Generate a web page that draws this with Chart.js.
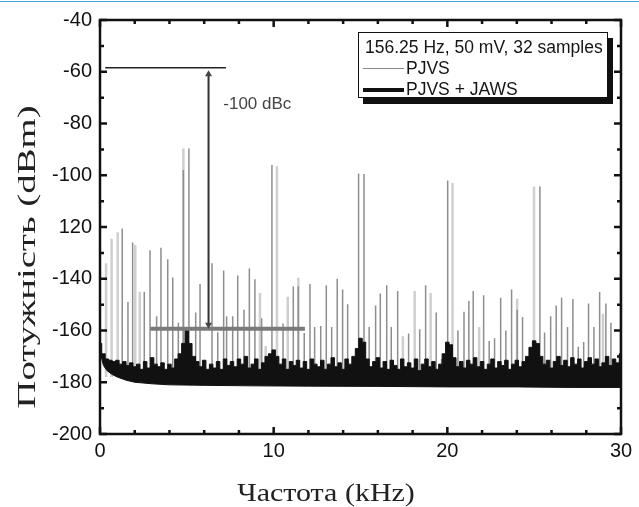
<!DOCTYPE html>
<html lang="uk">

<head>
    <meta charset="UTF-8">
    <title>Спектр PJVS та PJVS + JAWS</title>
    <script src="https://cdn.jsdelivr.net/npm/chart.js"></script>
    <style>
        html, body { margin: 0; padding: 0; background: #fff; }
        .container { position: relative; width: 639px; height: 507px; }
        .linha-topo { position: absolute; left: 0; top: 1px; width: 639px; height: 1px; background: #3fa9d8; }
        .legenda {
            position: absolute; left: 358px; top: 32px; width: 250px; height: 66px;
            box-sizing: border-box; border: 1.5px solid #111; background: #fff;
            box-shadow: 5px 6px 0 #111;
            font-family: "Liberation Sans", Arial, sans-serif; font-size: 17.5px; color: #151515;
            padding-top: 4px; line-height: 21px;
        }
        .legenda .titulo { padding-left: 6px; white-space: nowrap; }
        .legenda .item { display: flex; align-items: center; white-space: nowrap; }
        .amostra { display: inline-block; width: 41px; margin: 0 2px 0 4px; }
        .fina { border-top: 1.5px solid #8a8a8a; }
        .grossa { border-top: 4px solid #111; }
    </style>
</head>

<body>
    <div class="container">
        <canvas id="grafico" width="639" height="507"></canvas>
        <div class="linha-topo"></div>
        <div class="legenda">
            <div class="titulo">156.25 Hz, 50 mV, 32 samples</div>
            <div class="item"><span class="amostra fina"></span>PJVS</div>
            <div class="item"><span class="amostra grossa"></span>PJVS + JAWS</div>
        </div>
    </div>
</body>

</html>

<script>
    // підписи осі Y (так, як надруковано)
    const yTickLabels = ['-40', '-60', '-80', '-100', '120', '-140', '-160', '-180', '-200'];
    const xMinorTicks = [0, 2, 4, 6, 8, 10, 12, 14, 16, 18, 20, 22, 24, 26, 28, 30];
    const xMajorTicks = [0, 10, 20, 30];
    const yMinorTicks = [-200, -190, -180, -170, -160, -150, -140, -130, -120, -110, -100, -90, -80, -70, -60, -50, -40];
    const xTitle = 'Частота (kHz)';
    const yTitle = 'Потужність (dBm)';

    // PJVS: гармоніки (кГц) та їх рівні (dBm)
    const pjvsFreq = [1.28, 1.61, 1.88, 2.55, 2.88, 3.26, 3.51, 3.9, 4.19, 4.51, 4.8, 5.12, 5.51, 5.76, 6.45, 6.78,
        7.12, 7.29, 7.64, 7.93, 8.29, 8.6, 8.92, 9.31, 9.9, 10.54, 11.13, 11.42, 11.76, 12.09, 12.36, 12.71,
        13.03, 13.34, 13.66, 13.97, 14.26, 14.89, 15.2, 15.5, 15.87, 16.14, 16.51, 16.77, 17.14, 17.77, 18.41,
        18.75, 19.36, 19.67, 20.02, 20.61, 20.96, 21.24, 21.49, 22.09, 22.41, 22.72, 23.07, 23.37, 23.7, 24.02,
        24.33, 25.33, 25.6, 25.95, 26.27, 26.58, 26.92, 27.23, 27.54, 27.85, 28.13, 28.44, 28.77, 29.13, 29.42];
    const pjvsPeak = [-120.6, -149, -126, -145, -129, -154.5, -128, -132.5, -139.5, -157, -98, -89.7, -153, -142, -134, -160.7,
        -136.8, -154.5, -154.5, -138.7, -152, -136, -140.2, -155.3, -96, -157.3, -143, -143, -161, -142, -158.6, -158.3,
        -142.5, -158.6, -140, -144.2, -149.9, -99.3, -99.5, -158.6, -150.3, -145.7, -142.5, -158.6, -144.7, -161.2, -159.5,
        -142.5, -153, -171, -102, -160, -152.8, -148.6, -144.7, -146.4, -164.1, -163, -147.3, -160, -144.2, -152,
        -154.8, -104.3, -160.8, -154.5, -150.3, -147.3, -158.6, -147.8, -166.3, -164.4, -149.6, -158.6, -145.1, -149.6, -157];

    // світліші лінії PJVS
    const pjvsLightFreq = [0.35, 0.67, 1.02, 2.03, 2.29, 4.8, 9.21, 9.54, 10.19, 10.81, 11.42, 17.44, 18.12, 19.04,
        20.3, 21.83, 24.02, 24.99, 28.96, 29.98];
    const pjvsLightPeak = [-134, -124.5, -122, -127, -145, -89.7, -145.5, -166, -96.5, -147, -139.6, -162.2, -144.7, -145.5,
        -103, -158.6, -147.7, -104.3, -153.5, -106];
    const spikeBase = -178;

    // PJVS + JAWS: верхня межа шумової смуги
    const jawsFreq = [
        0, 0.2, 0.4, 0.6, 0.8, 1, 1.2, 1.4, 1.6, 1.8,
        2, 2.2, 2.4, 2.6, 2.8, 3, 3.2, 3.4, 3.6, 3.8,
        4, 4.2, 4.4, 4.6, 4.8, 5, 5.2, 5.4, 5.6, 5.8,
        6, 6.2, 6.4, 6.6, 6.8, 7, 7.2, 7.4, 7.6, 7.8,
        8, 8.2, 8.4, 8.6, 8.8, 9, 9.2, 9.4, 9.6, 9.8,
        10, 10.2, 10.4, 10.6, 10.8, 11, 11.2, 11.4, 11.6, 11.8,
        12, 12.2, 12.4, 12.6, 12.8, 13, 13.2, 13.4, 13.6, 13.8,
        14, 14.2, 14.4, 14.6, 14.8, 15, 15.2, 15.4, 15.6, 15.8,
        16, 16.2, 16.4, 16.6, 16.8, 17, 17.2, 17.4, 17.6, 17.8,
        18, 18.2, 18.4, 18.6, 18.8, 19, 19.2, 19.4, 19.6, 19.8,
        20, 20.2, 20.4, 20.6, 20.8, 21, 21.2, 21.4, 21.6, 21.8,
        22, 22.2, 22.4, 22.6, 22.8, 23, 23.2, 23.4, 23.6, 23.8,
        24, 24.2, 24.4, 24.6, 24.8, 25, 25.2, 25.4, 25.6, 25.8,
        26, 26.2, 26.4, 26.6, 26.8, 27, 27.2, 27.4, 27.6, 27.8,
        28, 28.2, 28.4, 28.6, 28.8, 29, 29.2, 29.4, 29.6, 29.8,
        30];
    const jawsTop = [
        -165, -169, -171, -171.5, -172, -171.5, -173, -172, -173.5, -172.5,
        -174, -173, -175, -172, -174.5, -170.5, -173, -174, -172.5, -175,
        -173, -174.5, -171, -169, -165, -159, -165, -170, -172, -174,
        -171.5, -175, -173, -174.5, -172, -175, -171, -173.5, -172, -174,
        -171, -173, -170, -174.5, -173, -171, -175, -172.5, -170, -169,
        -167.5, -170, -173, -171, -175, -172, -173.5, -171.5, -174.5, -172,
        -175, -171, -173, -174, -171.5, -175, -173, -170.5, -174, -172.5,
        -175, -171, -173, -170, -167, -163, -164.5, -171, -174, -172,
        -170.5, -174.5, -172, -175, -171.5, -173.5, -175, -171, -174, -172.5,
        -174.5, -171, -175.5, -173, -171, -174, -172, -175, -173, -169,
        -164.5, -165.5, -170.5, -174, -172, -174.5, -171.5, -173, -170.5, -174,
        -172, -175, -173, -171, -174.5, -172, -173.5, -171.5, -175, -173,
        -171.5, -174, -172, -170, -166.5, -164, -165, -170, -173, -171.5,
        -174.5, -172, -170, -173.5, -171.5, -174, -170.5, -173, -171, -174.5,
        -172, -170.5, -173, -171, -174, -172.5, -170, -173.5, -171, -172.5,
        -169];
    // нижня межа смуги
    const jawsLowFreq = [0, 0.1, 0.2, 0.4, 0.7, 1, 1.5, 2, 3, 4, 6, 9, 12, 16, 20, 24, 27, 30];
    const jawsLow = [-166, -171, -173.5, -175.5, -177, -178, -179.2, -180, -180.6, -181, -181.2, -181.4, -181.5, -181.6, -181.8, -181.8, -182, -182];

    // позначка -100 dBc
    const carrierLevel = -58.5;
    const carrierLine = [0.3, 7.25];
    const floorLevel = -159.3;
    const floorLine = [2.9, 11.8];
    const markFreq = 6.25;
    const dbcText = '-100 dBc';
    const dbcPos = [7.1, -72.5];

    function spikes(freq, peak) {
        const pts = [];
        freq.forEach((f, i) => {
            pts.push({ x: f, y: spikeBase }, { x: f, y: peak[i] }, { x: f, y: null });
        });
        return pts;
    }

    // розтягнутий підпис (шрифт у друці вужчий / видовжений)
    function textoEsticado(ctx, texto, cx, cy, angulo, esticar) {
        ctx.save();
        ctx.translate(cx, cy);
        ctx.rotate(angulo);
        ctx.scale(esticar, 1);
        ctx.textAlign = 'center';
        ctx.textBaseline = 'middle';
        ctx.fillText(texto, 0, 0);
        ctx.restore();
    }

    const moldura = {
        id: 'moldura',
        afterDraw(chart) {
            const { ctx, chartArea: a, scales: { x, y } } = chart;
            ctx.save();
            ctx.strokeStyle = '#111';
            ctx.lineWidth = 2.5;
            ctx.strokeRect(a.left, a.top, a.right - a.left, a.bottom - a.top);

            ctx.beginPath();
            xMinorTicks.forEach(v => {
                const px = x.getPixelForValue(v);
                const len = xMajorTicks.includes(v) ? 7 : 4;
                ctx.moveTo(px, a.bottom); ctx.lineTo(px, a.bottom - len);
                ctx.moveTo(px, a.top); ctx.lineTo(px, a.top + len);
            });
            yMinorTicks.forEach(v => {
                const py = y.getPixelForValue(v);
                const len = (v % 20 === 0) ? 7 : 4;
                ctx.moveTo(a.left, py); ctx.lineTo(a.left + len, py);
                ctx.moveTo(a.right, py); ctx.lineTo(a.right - len, py);
            });
            ctx.stroke();

            ctx.fillStyle = '#444';
            ctx.font = '17px "Liberation Sans", Arial, sans-serif';
            ctx.textBaseline = 'middle';
            ctx.fillText(dbcText, x.getPixelForValue(dbcPos[0]), y.getPixelForValue(dbcPos[1]));

            // назви осей
            ctx.fillStyle = '#222';
            ctx.font = '25px "Liberation Serif", "Times New Roman", serif';
            textoEsticado(ctx, xTitle, 326, 494, 0, 1.2);
            textoEsticado(ctx, yTitle, 28, 257, -Math.PI / 2, 1.55);
            ctx.restore();
        }
    };

    const fonteEixo = { family: '"Liberation Sans", Arial, sans-serif', size: 20 };

    new Chart(document.getElementById('grafico'), {
        type: 'line',
        data: {
            datasets: [
                {
                    // стрілка між рівнями
                    data: [{ x: markFreq, y: carrierLevel - 2.5 }, { x: markFreq, y: floorLevel + 1.5 }],
                    borderColor: '#333', borderWidth: 2,
                    pointRadius: 4, pointStyle: 'triangle', pointRotation: [0, 180],
                    pointBackgroundColor: '#444', pointBorderWidth: 0
                },
                {
                    data: [{ x: carrierLine[0], y: carrierLevel }, { x: carrierLine[1], y: carrierLevel }],
                    borderColor: '#222', borderWidth: 1.5
                },
                {
                    data: [{ x: floorLine[0], y: floorLevel }, { x: floorLine[1], y: floorLevel }],
                    borderColor: '#7a7a7a', borderWidth: 4
                },
                {
                    label: 'PJVS + JAWS',
                    data: jawsFreq.map((f, i) => ({ x: f, y: jawsTop[i] })),
                    borderColor: '#111', borderWidth: 1, stepped: 'middle',
                    backgroundColor: '#111', fill: '+1'
                },
                {
                    data: jawsLowFreq.map((f, i) => ({ x: f, y: jawsLow[i] })),
                    borderColor: '#111', borderWidth: 1
                },
                {
                    label: 'PJVS',
                    data: spikes(pjvsFreq, pjvsPeak),
                    borderColor: '#8e8e8e', borderWidth: 1.5
                },
                {
                    data: spikes(pjvsLightFreq, pjvsLightPeak),
                    borderColor: '#cfcfcf', borderWidth: 2.5
                }
            ]
        },
        options: {
            responsive: false,
            animation: false,
            layout: { padding: { top: 19, right: 18, left: 0, bottom: 0 } },
            elements: { point: { radius: 0 }, line: { tension: 0 } },
            plugins: { legend: { display: false }, tooltip: { enabled: false } },
            scales: {
                x: {
                    type: 'linear', min: 0, max: 30,
                    ticks: { stepSize: 10, padding: 5, font: fonteEixo, color: '#111' },
                    grid: { display: false, drawTicks: false },
                    border: { display: false },
                    afterFit(s) { s.height = 73; }
                },
                y: {
                    min: -200, max: -40,
                    ticks: { stepSize: 20, padding: 8, font: fonteEixo, color: '#111', callback: v => yTickLabels[Math.round((-40 - v) / 20)] },
                    grid: { display: false, drawTicks: false },
                    border: { display: false },
                    afterFit(s) { s.width = 100; }
                }
            }
        },
        plugins: [moldura]
    });
</script>
